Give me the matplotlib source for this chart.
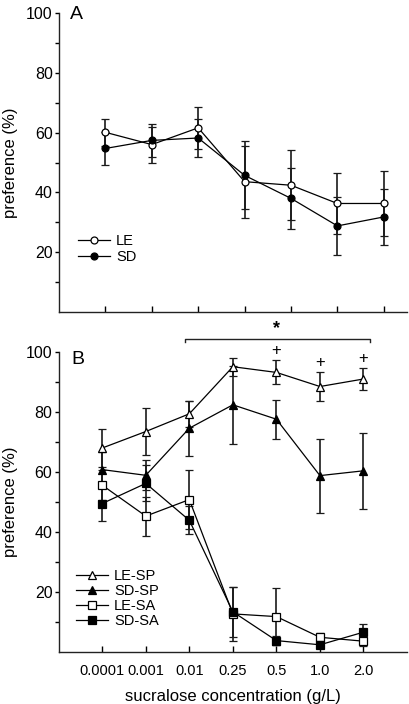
import matplotlib
matplotlib.use("Agg")
import matplotlib.pyplot as plt

plt.rcParams['font.family'] = ['Liberation Sans', 'DejaVu Sans']

# concentrazioni (g/L)
conc_labels = ["0.0001", "0.001", "0.01", "0.25", "0.5", "1.0", "2.0"]

# pannello A
le_a = [60.1, 56.0, 61.6, 43.6, 42.4, 36.3, 36.3]
le_a_err = [4.5, 6.0, 7.0, 12.0, 11.7, 10.3, 10.8]
sd_a = [54.7, 57.4, 58.2, 45.7, 38.0, 28.8, 31.8]
sd_a_err = [5.4, 5.4, 6.3, 11.4, 10.3, 9.7, 9.3]

# pannello B
le_sp = [67.9, 73.4, 79.3, 95.0, 93.1, 88.4, 90.9]
le_sp_err = [6.3, 7.8, 4.3, 3.0, 4.0, 4.8, 3.6]
sd_sp = [60.7, 58.8, 74.5, 82.3, 77.5, 58.7, 60.3]
sd_sp_err = [6.0, 5.0, 9.2, 13.1, 6.5, 12.3, 12.6]
le_sa = [55.5, 45.2, 50.7, 12.6, 11.7, 4.8, 3.5]
le_sa_err = [5.0, 6.5, 9.8, 9.0, 9.4, 1.5, 1.5]
sd_sa = [49.4, 56.1, 43.8, 13.3, 3.7, 2.3, 6.5]
sd_sa_err = [5.8, 6.0, 4.7, 8.3, 1.5, 1.0, 2.8]

# segni "+" sopra LE-SP
plus_idx = [4, 5, 6]
plus_y = [100.3, 96.4, 97.8]

x = list(range(len(conc_labels)))

fig = plt.figure(figsize=(4.1, 7.04), dpi=100)
axA = fig.add_axes([0.1439, 0.5568, 0.8488, 0.4247])
axB = fig.add_axes([0.1432, 0.0743, 0.8495, 0.4261])


def style_axis(ax):
    for s in ['top', 'right']:
        ax.spines[s].set_visible(False)
    for s in ['left', 'bottom']:
        ax.spines[s].set_linewidth(1.0)
        ax.spines[s].set_color('#222222')
    ax.set_ylim(0, 100)
    ax.set_yticks([20, 40, 60, 80, 100])
    ax.set_yticks([10, 30, 50, 70, 90], minor=True)
    ax.tick_params(axis='y', which='both', direction='out', length=3, width=1,
                   labelsize=11.5, pad=1.5)
    ax.tick_params(axis='x', which='both', direction='in', length=4, width=1)
    ax.set_xticks(x)
    ax.set_ylabel("preference (%)", fontsize=12)
    ax.yaxis.set_label_coords(-0.118, 0.5)


def plot_series(ax, y, err, marker, face, label, ms):
    ax.errorbar(x, y, yerr=err, color='black', marker=marker, markersize=ms,
                markerfacecolor=face, markeredgecolor='black', markeredgewidth=0.9,
                linewidth=0.9, elinewidth=1.2, ecolor='#1a1a1a', capsize=3,
                capthick=1.2, label=label, clip_on=False)


# Pannello A
style_axis(axA)
axA.set_xlim(-1, 6.5)
axA.set_xticklabels([])
plot_series(axA, le_a, le_a_err, 'o', 'white', 'LE', 5)
plot_series(axA, sd_a, sd_a_err, 'o', 'black', 'SD', 5)
handles, labels = axA.get_legend_handles_labels()
axA.legend([h[0] for h in handles], labels, loc='upper left',
           bbox_to_anchor=(0.03, 0.29), frameon=False, fontsize=10.5,
           handlelength=2.2, handletextpad=0.4, labelspacing=0.15, borderpad=0.1)
axA.text(0.032, 1.022, "A", transform=axA.transAxes, fontsize=14,
         va='top', ha='left')

# Pannello B
style_axis(axB)
axB.set_xlim(-1, 7)
axB.set_xticklabels(conc_labels, fontsize=10.5)
axB.tick_params(axis='x', pad=9)
axB.set_xlabel("sucralose concentration (g/L)", fontsize=12, labelpad=8)
plot_series(axB, le_sp, le_sp_err, '^', 'white', 'LE-SP', 6)
plot_series(axB, sd_sp, sd_sp_err, '^', 'black', 'SD-SP', 6)
plot_series(axB, le_sa, le_sa_err, 's', 'white', 'LE-SA', 5.5)
plot_series(axB, sd_sa, sd_sa_err, 's', 'black', 'SD-SA', 5.5)
handles, labels = axB.get_legend_handles_labels()
axB.legend([h[0] for h in handles], labels, loc='upper left',
           bbox_to_anchor=(0.025, 0.305), frameon=False, fontsize=10.5,
           handlelength=2.2, handletextpad=0.4, labelspacing=0.08, borderpad=0.1)
axB.text(0.035, 1.003, "B", transform=axB.transAxes, fontsize=14,
         va='top', ha='left')

for i, yp in zip(plus_idx, plus_y):
    axB.text(x[i], yp, "+", ha='center', va='center', fontsize=12)

# parentesi con asterisco
axB.plot([1.91, 1.91, 6.16, 6.16], [103.2, 104.2, 104.2, 103.2], color='#222222',
         linewidth=1.0, clip_on=False)
axB.text(4.0, 107.6, "*", ha='center', va='center', fontsize=13, fontweight='bold')

fig.savefig("out.png", dpi=100)
